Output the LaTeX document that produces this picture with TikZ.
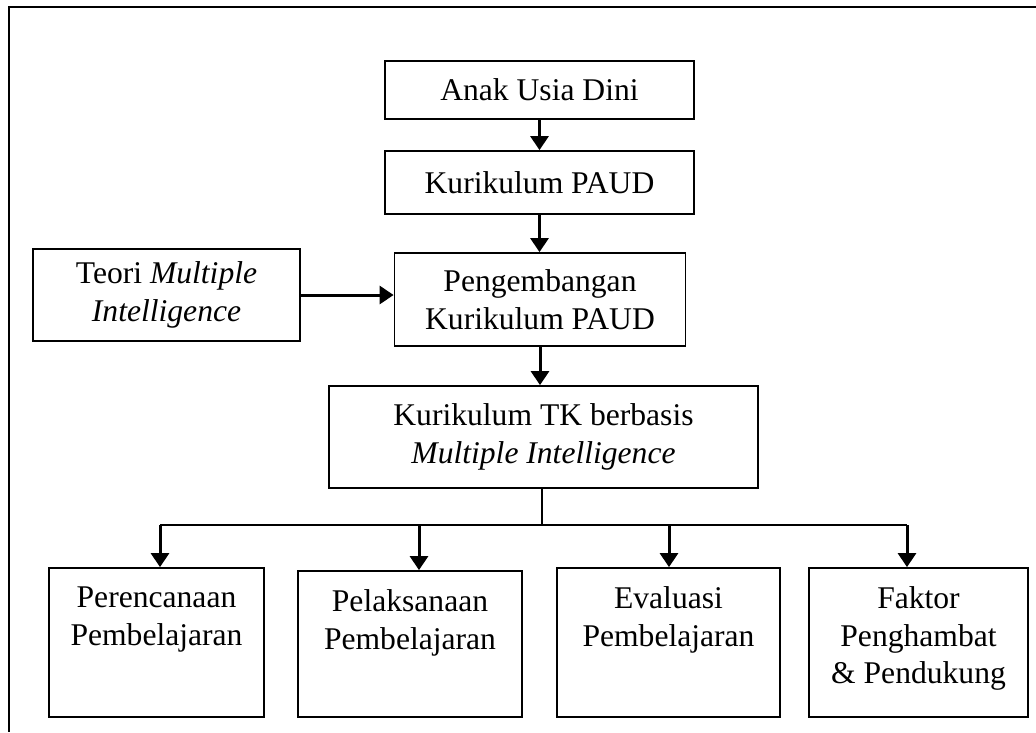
\documentclass[tikz,border=0pt]{standalone}
\usepackage{fontspec}
\setmainfont{Liberation Serif}
\usetikzlibrary{arrows.meta,calc}
\tikzset{
  box/.style={draw=black, line width=1.8pt, inner sep=0pt, align=center,
    font=\fontsize{31.6}{38}\selectfont},
  txt/.style={inner sep=0pt, align=center, font=\fontsize{31.6}{37.5}\selectfont},
  arr/.style={line width=3pt, -{Triangle[length=14pt,width=18pt]}},
  thinline/.style={line width=1.8pt},
  stem/.style={line width=1.5pt},
  frame/.style={line width=2.2pt}
}
\begin{document}
\begin{tikzpicture}[x=1pt,y=-1pt]
\useasboundingbox (0,0) rectangle (1036,732);
% outer frame (only top and left visible)
\coordinate (fTR) at (1036,7);
\coordinate (fTL) at (9,7);
\coordinate (fBL) at (9,732);
\draw[frame] (fTR) -- (fTL) -- (fBL);

\node[box, minimum width=309pt, minimum height=58pt] (anak) at (539.5,90) {Anak Usia Dini};
\node[box, minimum width=309pt, minimum height=63pt] (kur) at (539.5,182.5) {Kurikulum PAUD};
\node[box, minimum width=291pt, minimum height=93pt] (peng) at (540,299.5) {Pengembangan\\Kurikulum PAUD};
\node[box, minimum width=267pt, minimum height=92pt] (teori) at (166.5,295) {Teori \textit{Multiple}\\\textit{Intelligence}};
\node[box, minimum width=429pt, minimum height=102pt] (tk) at (543.5,437) {Kurikulum TK berbasis\\\textit{Multiple Intelligence}};

\node[box, minimum width=215pt, minimum height=149pt] (b1) at (156.5,642.5) {};
\node[box, minimum width=224pt, minimum height=146pt] (b2) at (410,644) {};
\node[box, minimum width=223pt, minimum height=149pt] (b3) at (668.5,642.5) {};
\node[box, minimum width=219pt, minimum height=149pt] (b4) at (918.5,642.5) {};

\node[txt, anchor=north] (t1) at (156.5,587) {Perencanaan\\Pembelajaran};
\node[txt, anchor=north] (t2) at (410,589.5) {Pelaksanaan\\Pembelajaran};
\node[txt, anchor=north] (t3) at (668.5,586.5) {Evaluasi\\Pembelajaran};
\node[txt, anchor=north] (t4) at (918.5,586.5) {Faktor\\Penghambat\\\& Pendukung};

% connectors
\draw[arr] (anak.south) -- (kur.north);
\draw[arr] (kur.south) -- (kur.south |- peng.north);
\draw[arr] (teori.east) -- (teori.east -| peng.west);
\draw[arr] (peng.south) -- (peng.south |- tk.north);

\coordinate (j) at (542,525);
\coordinate (a1) at (160,525);
\coordinate (a2) at (419,525);
\coordinate (a3) at (669,525);
\coordinate (a4) at (907,525);
\draw[stem] (tk.south -| j) -- (j);
\draw[thinline] (a1) -- (a4);
\draw[arr] (a1) -- (a1 |- b1.north);
\draw[arr] (a2) -- (a2 |- b2.north);
\draw[arr] (a3) -- (a3 |- b3.north);
\draw[arr] (a4) -- (a4 |- b4.north);
\end{tikzpicture}
\end{document}
